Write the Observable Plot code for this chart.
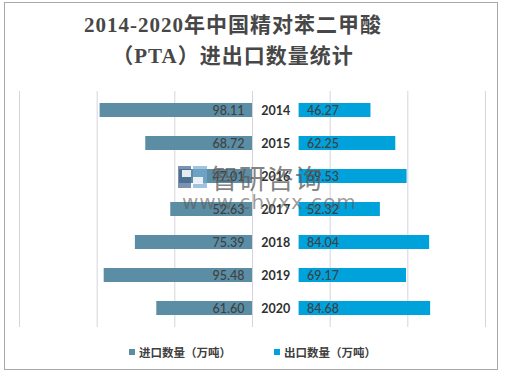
<!DOCTYPE html>
<html>
<head>
<meta charset="utf-8">
<script src="https://cdn.jsdelivr.net/npm/d3@7"></script>
<script src="https://cdn.jsdelivr.net/npm/@observablehq/plot@0.6"></script>
<style>
  html, body { margin: 0; padding: 0; background: #fff; }
  #wrap { position: relative; width: 505px; height: 375px; overflow: hidden; }
  #frame { position: absolute; left: 4px; top: 2px; width: 494px; height: 368px; border: 1px solid #a8a8a8; box-sizing: border-box; }
  #title { position: absolute; left: 0; top: 10px; width: 466px; text-align: center;
    font-family: "Liberation Serif", "Noto Sans CJK SC", serif; font-size: 21px; line-height: 31px;
    color: #474747; font-weight: bold; letter-spacing: 1px; }
  #legend { position: absolute; top: 344px; left: 0; width: 505px; font-family: "Noto Sans CJK SC", sans-serif;
    font-size: 11.5px; color: #404040; font-weight: bold; }
  .li { position: absolute; top: 0; display: flex; align-items: center; white-space: nowrap; }
  .sw { width: 6px; height: 6px; margin-right: 4px; }
  #wm1 { position: absolute; left: 211px; top: 158px; font-family: "Noto Sans CJK SC", sans-serif; font-size: 27px;
    color: rgba(90,90,90,0.75); letter-spacing: 1px; }
  #wm2 { position: absolute; left: 182px; top: 190px; font-family: "DejaVu Sans", sans-serif; font-size: 20px;
    color: rgba(90,90,90,0.6); letter-spacing: 1px; }
  #logo { position: absolute; left: 178px; top: 166px; width: 29px; height: 22px; }
  #plot { position: absolute; left: 0; top: 0; }
</style>
</head>
<body>
<div id="wrap">
  <div id="plot"></div>
  <div id="frame"></div>
  <div id="title">2014-2020年中国精对苯二甲酸<br>（PTA）进出口数量统计</div>
  <div id="legend"></div>
  <svg id="logo" viewBox="0 0 29 22">
    <rect x="0" y="0" width="13" height="22" fill="rgba(70,100,140,0.7)"/>
    <rect x="4" y="4" width="9" height="7" fill="rgba(255,255,255,0.85)"/>
    <rect x="15" y="0" width="14" height="22" fill="rgba(120,170,210,0.7)"/>
    <rect x="15" y="11" width="10" height="7" fill="rgba(255,255,255,0.85)"/>
  </svg>
  <div id="wm1">智研咨询</div>
  <div id="wm2">www.chyxx.com</div>
</div>
<script>
const years = ["2014", "2015", "2016", "2017", "2018", "2019", "2020"];
const importQty = [98.11, 68.72, 47.01, 52.63, 75.39, 95.48, 61.60];
const exportQty = [46.27, 62.25, 69.53, 52.32, 84.04, 69.17, 84.68];
const seriesNames = ["进口数量（万吨）", "出口数量（万吨）"];
const gridTicks = [-150, -100, -50, 0, 50, 100, 150];

const colImp = "#5b8ea4";
const colExp = "#00a2dc";
const OFFSET = 30; // gap for year labels (in axis units)

const data = years.map((y, i) => ({year: y, imp: importQty[i], exp: exportQty[i]}));

const chart = Plot.plot({
  width: 505,
  height: 375,
  marginLeft: 19,
  marginRight: 20,
  marginTop: 91,
  marginBottom: 48,
  x: {domain: [-150, 150], axis: null},
  y: {domain: years, paddingInner: 0.58, paddingOuter: 0.29, axis: null},
  style: {fontFamily: "Lato, sans-serif", background: "transparent"},
  marks: [
    Plot.ruleX(gridTicks, {stroke: "#d6d3dc", strokeWidth: 1}),
    Plot.barX(data, {y: "year", x1: 0, x2: d => -d.imp, fill: colImp}),
    Plot.barX(data, {y: "year", x1: OFFSET, x2: d => OFFSET + d.exp, fill: colExp}),
    Plot.text(data, {y: "year", x: 0, dx: -8, text: d => d.imp.toFixed(2), textAnchor: "end",
      fill: "#404040", fontSize: 12.5, fontWeight: "500"}),
    Plot.text(data, {y: "year", x: OFFSET, dx: 8, text: d => d.exp.toFixed(2), textAnchor: "start",
      fill: "#404040", fontSize: 12.5, fontWeight: "500"}),
    Plot.text(data, {y: "year", x: OFFSET / 2, text: "year", textAnchor: "middle",
      fill: "#303030", fontSize: 12.5, fontWeight: "bold"})
  ]
});
document.getElementById("plot").appendChild(chart);

const legend = document.getElementById("legend");
const pos = [129, 274];
[colImp, colExp].forEach((c, i) => {
  const item = document.createElement("div");
  item.className = "li";
  item.style.left = pos[i] + "px";
  item.innerHTML = `<span class="sw" style="background:${c}"></span><span>${seriesNames[i]}</span>`;
  legend.appendChild(item);
});
</script>
</body>
</html>
